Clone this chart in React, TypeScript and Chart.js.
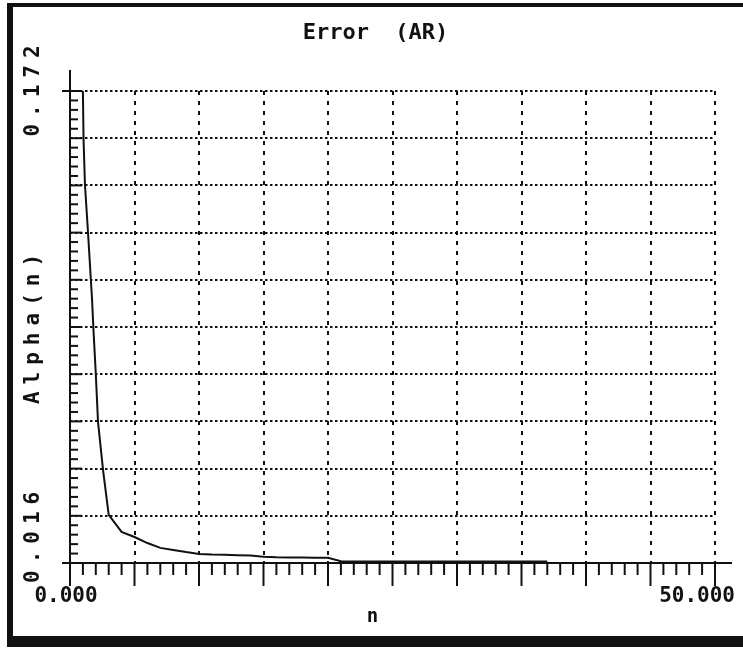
import React, { useEffect, useRef } from 'react';
import { Chart, registerables } from 'chart.js';

Chart.register(...registerables);

// ---- data ----
const N = [
  1, 1.05, 1.16, 1.4, 1.71, 1.82, 2, 2.17, 2.56, 3, 4, 5, 6, 7, 8, 9, 10, 11, 12, 13, 14, 15, 16, 17, 18, 19, 20,
  21, 22, 23, 24, 25, 26, 27, 28, 29, 30, 31, 32, 33, 34, 35, 36, 37,
];
const ALPHA = [
  0.172, 0.156, 0.141, 0.125, 0.103, 0.093, 0.0785, 0.0627, 0.0468, 0.0319,
  0.0263, 0.0246, 0.0226, 0.021, 0.0203, 0.0196, 0.019,
  0.0188, 0.0187, 0.0186, 0.0185, 0.0181, 0.0179, 0.0178, 0.0178, 0.0177, 0.0177,
  0.0166, 0.0165, 0.0165, 0.0165, 0.0165, 0.0165, 0.0165, 0.0165, 0.0165, 0.0165,
  0.0165, 0.0165, 0.0165, 0.0165, 0.0165, 0.0165, 0.0165,
];

const X_MIN = 0;
const X_MAX = 50;
const X_MAJOR_STEP = 5;
const X_MINOR_STEP = 1;
const Y_MIN = 0.016;
const Y_MAX = 0.172;
const Y_DIVS = 10;
const Y_MINOR_PER_DIV = 5;

const X_TICK_LABELS = ['0.000', '50.000'];
const Y_TICK_LABELS = ['0.016', '0.172'];
const TITLE = 'Error  (AR)';
const X_TITLE = 'n';
const Y_TITLE = 'Alpha(n)';

const INK = '#111';
const MONO = '"DejaVu Sans Mono", monospace';

const decorPlugin = {
  id: 'decor',
  beforeDraw(chart: any) {
    const ctx = chart.ctx;
    ctx.save();
    ctx.fillStyle = '#fff';
    ctx.fillRect(0, 0, chart.width, chart.height);
    ctx.fillStyle = INK;
    ctx.fillRect(7, 3, chart.width - 7, 4);
    ctx.fillRect(7, 3, 6, 644);
    ctx.fillRect(7, 636, chart.width - 7, 11);
    ctx.restore();
  },
  afterDraw(chart: any) {
    const ctx = chart.ctx;
    const xs = chart.scales.x;
    const ys = chart.scales.y;
    const x0 = xs.getPixelForValue(X_MIN);
    const x1 = xs.getPixelForValue(X_MAX);
    const yb = ys.getPixelForValue(Y_MIN);
    const yt = ys.getPixelForValue(Y_MAX);
    const line = (ax: number, ay: number, bx: number, by: number) => {
      ctx.beginPath();
      ctx.moveTo(ax, ay);
      ctx.lineTo(bx, by);
      ctx.stroke();
    };
    ctx.save();
    ctx.strokeStyle = INK;
    ctx.lineWidth = 2;
    ctx.setLineDash([]);
    // axes
    line(x0, yt - 21, x0, yb);
    line(x0 - 8, yb, x1 + 17, yb);
    // y ticks
    const total = Y_DIVS * Y_MINOR_PER_DIV;
    for (let i = 0; i <= total; i++) {
      const v = Y_MIN + (i * (Y_MAX - Y_MIN)) / total;
      const py = ys.getPixelForValue(v);
      if (i % Y_MINOR_PER_DIV === 0) {
        if (i === 0) continue;
        line(x0 - (i === total ? 8 : 0), py, x0 + 12, py);
      } else {
        line(x0, py, x0 + 8, py);
      }
    }
    // x ticks
    for (let v = X_MIN; v <= X_MAX + 1e-9; v += X_MINOR_STEP) {
      const px = xs.getPixelForValue(v);
      const major = Math.abs(v / X_MAJOR_STEP - Math.round(v / X_MAJOR_STEP)) < 1e-9;
      line(px, yb, px, yb + (major ? 23 : 12));
    }

    ctx.fillStyle = INK;
    // title
    ctx.font = `bold 22px ${MONO}`;
    ctx.textAlign = 'center';
    ctx.textBaseline = 'middle';
    ctx.fillText(TITLE, chart.width / 2 + 4, 33);
    // x labels
    ctx.font = `bold 21px ${MONO}`;
    ctx.textAlign = 'center';
    ctx.fillText(X_TICK_LABELS[0], x0 - 4, 597);
    ctx.textAlign = 'right';
    ctx.fillText(X_TICK_LABELS[1], x1 + 20, 597);
    // x title
    ctx.textAlign = 'center';
    ctx.font = `bold 19px ${MONO}`;
    ctx.fillText(X_TITLE, chart.width / 2 + 1, 617);

    // rotated y texts
    ctx.font = `bold 21px ${MONO}`;
    (ctx as any).letterSpacing = '7px';
    const rot = (text: string, cx: number, cy: number, align: string) => {
      ctx.save();
      ctx.translate(cx, cy);
      ctx.rotate(-Math.PI / 2);
      ctx.textAlign = align;
      ctx.textBaseline = 'middle';
      ctx.fillText(text, align === 'center' ? 3.5 : 0, 0);
      ctx.restore();
    };
    rot(Y_TICK_LABELS[1], 34, yt, 'center');
    rot(Y_TICK_LABELS[0], 34, yb + 20, 'left');
    rot(Y_TITLE, 34, (yt + yb) / 2 + 2, 'center');
    ctx.restore();
  },
};

export default function App() {
  const ref = useRef<HTMLCanvasElement | null>(null);
  useEffect(() => {
    if (!ref.current) return;
    const chart = new Chart(ref.current, {
      type: 'line',
      data: {
        datasets: [
          {
            data: N.map((n, i) => ({ x: n, y: ALPHA[i] })),
            borderColor: INK,
            borderWidth: 2,
            pointRadius: 0,
            tension: 0,
            fill: false,
          },
        ],
      },
      options: {
        animation: false,
        responsive: false,
        maintainAspectRatio: false,
        layout: { padding: { left: 70, top: 91, right: 28, bottom: 92 } },
        plugins: {
          legend: { display: false },
          title: { display: false },
          tooltip: { enabled: false },
        },
        scales: {
          x: {
            type: 'linear',
            min: X_MIN,
            max: X_MAX,
            ticks: { display: false, stepSize: X_MAJOR_STEP },
            grid: { drawTicks: false, color: INK, lineWidth: 2 },
            border: { display: false, dash: [4, 6] },
          },
          y: {
            type: 'linear',
            min: Y_MIN,
            max: Y_MAX,
            ticks: { display: false },
            afterBuildTicks: (s: any) => {
              const t = [];
              for (let i = 0; i <= Y_DIVS; i++) t.push({ value: Y_MIN + (i * (Y_MAX - Y_MIN)) / Y_DIVS });
              s.ticks = t;
            },
            grid: { drawTicks: false, color: INK, lineWidth: 2 },
            border: { display: false, dash: [2.5, 2.5] },
          },
        },
      },
      plugins: [decorPlugin],
    } as any);
    return () => chart.destroy();
  }, []);
  return (
    <div style={{ position: 'absolute', left: 0, top: 0, width: 743, height: 655 }}>
      <canvas ref={ref} width={743} height={655} style={{ display: 'block' }} />
    </div>
  );
}
